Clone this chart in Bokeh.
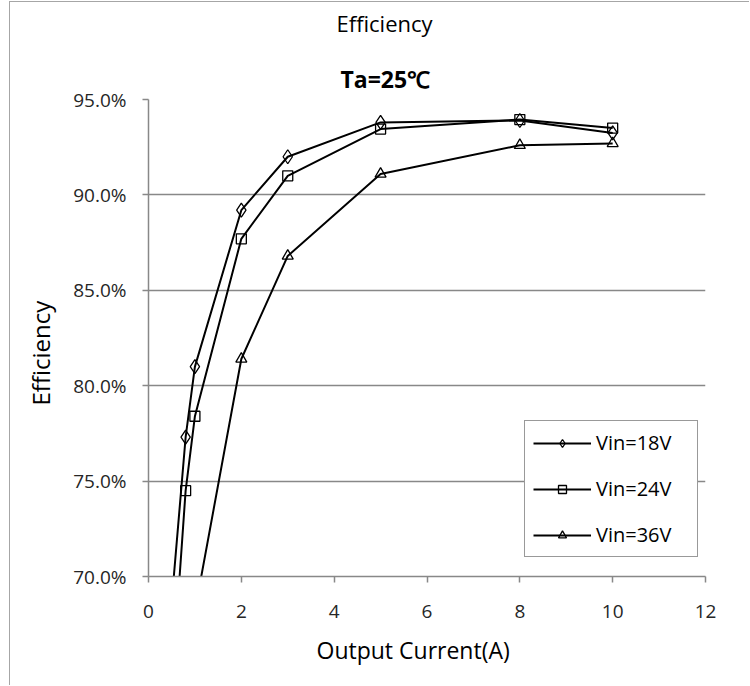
from bokeh.plotting import figure
from bokeh.models import Range1d, Title, Legend, LegendItem, FixedTicker, PrintfTickFormatter
from bokeh.embed import file_html
from bokeh.resources import INLINE

# ---- data ----
current_18v = [0.5, 0.8, 1.0, 2.0, 3.0, 5.0, 8.0, 10.0]
eff_18v = [68.7, 77.3, 81.0, 89.2, 92.0, 93.8, 93.9, 93.25]
current_24v = [0.5, 0.8, 1.0, 2.0, 3.0, 5.0, 8.0, 10.0]
eff_24v = [64.1, 74.5, 78.4, 87.7, 91.0, 93.45, 93.95, 93.5]
current_36v = [1.0, 2.0, 3.0, 5.0, 8.0, 10.0]
eff_36v = [68.2, 81.4, 86.8, 91.1, 92.6, 92.7]
series_labels = ["Vin=18V", "Vin=24V", "Vin=36V"]
x_ticks = [0, 2, 4, 6, 8, 10, 12]
y_ticks = [70, 75, 80, 85, 90, 95]
chart_title = "Efficiency"
chart_subtitle = "Ta=25\u2103"
x_label = "Output Current(A)"
y_label = "Efficiency"

FONT = "Open Sans"
GRAY = "#888888"

p = figure(width=740, height=684, output_backend="svg", toolbar_location=None,
           x_range=Range1d(0, 12), y_range=Range1d(70, 95),
           min_border_left=138, min_border_right=45,
           min_border_top=97, min_border_bottom=110)
p.styles = {"margin-left": "9px", "margin-top": "1px",
            "border-left": "1px solid #a6a6a6", "border-top": "1px solid #a6a6a6"}
p.background_fill_color = "white"
p.border_fill_color = "white"
p.outline_line_color = None

p.xaxis.ticker = FixedTicker(ticks=x_ticks)
p.yaxis.ticker = FixedTicker(ticks=y_ticks)
p.yaxis.formatter = PrintfTickFormatter(format="%.1f%%")
for ax in (p.xaxis[0], p.yaxis[0]):
    ax.axis_line_color = GRAY
    ax.axis_line_width = 1.5
    ax.major_tick_line_color = GRAY
    ax.major_tick_line_width = 1.5
    ax.major_tick_out = 6
    ax.major_tick_in = 0
    ax.minor_tick_line_color = None
    ax.major_label_text_font = FONT
    ax.major_label_text_font_size = "19px"
    ax.major_label_text_color = "#262626"
p.xaxis.major_label_standoff = 22
p.yaxis.major_label_standoff = 16

p.xgrid.grid_line_color = None
p.ygrid.grid_line_color = GRAY
p.ygrid.grid_line_width = 1.5

series = [
    (current_18v, eff_18v, "diamond", 14),
    (current_24v, eff_24v, "square", 10),
    (current_36v, eff_36v, "triangle", 11),
]
items = []
for (xs, ys, marker, size), lab in zip(series, series_labels):
    r_line = p.line(xs, ys, line_color="black", line_width=2)
    r_mark = p.scatter(xs, ys, marker=marker, size=size, fill_alpha=0,
                       line_color="black", line_width=1.3)
    items.append(LegendItem(label=lab, renderers=[r_line, r_mark]))

legend = Legend(items=items, location=(376, 19), orientation="vertical",
                glyph_width=58, glyph_height=20, label_standoff=5,
                padding=8, spacing=19, label_width=93,
                label_text_font=FONT, label_text_font_size="20px",
                label_text_color="black",
                border_line_color="#333333", border_line_width=1.5,
                background_fill_color="white", background_fill_alpha=1.0)
p.add_layout(legend)

# axis titles (placed as titles so they can sit off-centre like the original)
p.add_layout(Title(text=y_label, align="left", offset=171, standoff=23,
                   vertical_align="top", text_font=FONT, text_font_size="24px",
                   text_font_style="normal", text_color="black"), "left")
p.add_layout(Title(text=x_label, align="left", offset=168, standoff=22,
                   vertical_align="bottom", text_font=FONT, text_font_size="23px",
                   text_font_style="normal", text_color="black"), "below")

# chart titles: nearest to the frame first
p.add_layout(Title(text=chart_subtitle, align="left", offset=192, standoff=9,
                   vertical_align="bottom", text_font=FONT, text_font_size="23px",
                   text_font_style="bold", text_color="black"), "above")
p.add_layout(Title(text=" ", align="left", offset=0, standoff=5,
                   vertical_align="bottom", text_font=FONT, text_font_size="4px",
                   text_color="white"), "above")
p.add_layout(Title(text=chart_title, align="left", offset=188, standoff=10,
                   vertical_align="top", text_font=FONT, text_font_size="22px",
                   text_font_style="normal", text_color="black"), "above")

open("out.html", "w").write(file_html(p, INLINE))
